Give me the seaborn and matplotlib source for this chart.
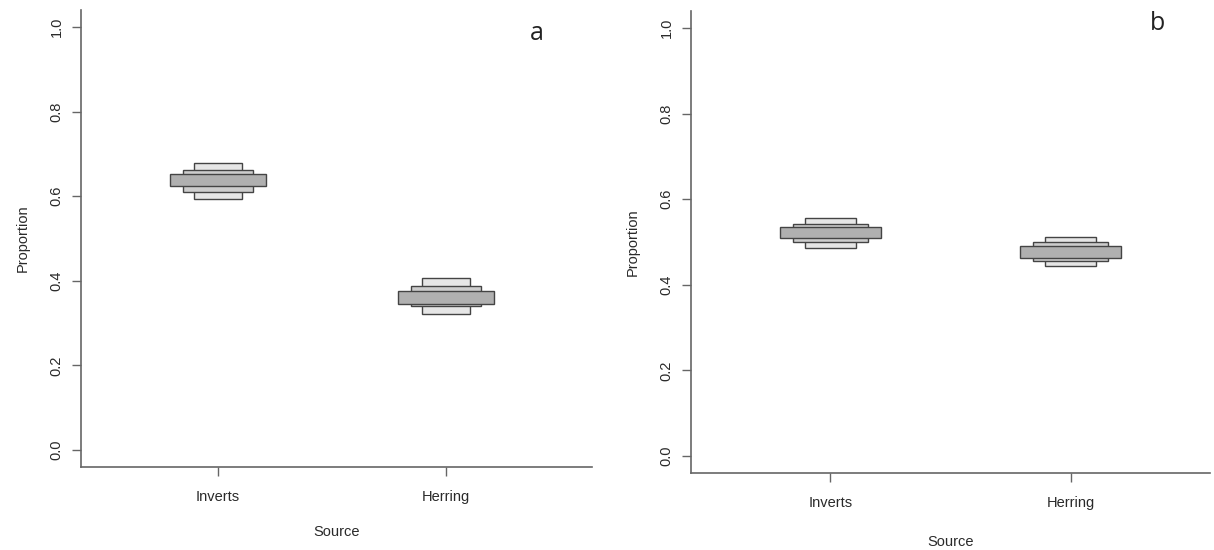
import matplotlib
matplotlib.use("Agg")
import matplotlib.pyplot as plt
import seaborn as sns

# Data: credible intervals (95%, 75%, 50%) of source proportions
sources = ["Inverts", "Herring"]

a_lo95 = [0.594, 0.321]
a_hi95 = [0.678, 0.407]
a_lo75 = [0.611, 0.341]
a_hi75 = [0.661, 0.388]
a_lo50 = [0.623, 0.346]
a_hi50 = [0.653, 0.377]

b_lo95 = [0.486, 0.443]
b_hi95 = [0.556, 0.512]
b_lo75 = [0.499, 0.456]
b_hi75 = [0.542, 0.500]
b_lo50 = [0.509, 0.462]
b_hi50 = [0.535, 0.490]

yticks = [0.0, 0.2, 0.4, 0.6, 0.8, 1.0]

sns.set_style("ticks")
plt.rcParams["font.family"] = ["Liberation Sans", "DejaVu Sans"]

txt = "#2a2a2a"
axc = "#666666"

fig = plt.figure(figsize=(12.14, 5.5), dpi=100)
W, H = 1214, 550


def panel(box, intervals, letter, letter_xy, xlim, ypad, xpad, xlabpad):
    l, t, r, b = box
    ax = fig.add_axes([l / W, 1 - b / H, (r - l) / W, (b - t) / H])
    levels = [(0.21, "#e6e6e6"), (0.31, "#cdcdcd"), (0.42, "#b0b0b0")]
    for (lo, hi), (w, col) in zip(intervals, levels):
        heights = [h - q for h, q in zip(hi, lo)]
        sns.barplot(x=sources, y=heights, bottom=lo, width=w, color=col,
                    saturation=1, edgecolor="#444444", linewidth=1.0,
                    errorbar=None, ax=ax)
    ax.set_ylim(-0.04, 1.04)
    ax.set_xlim(*xlim)
    ax.set_yticks(yticks)
    ax.set_yticklabels([f"{v:.1f}" for v in yticks], rotation=90, va="center")
    ax.set_xlabel("Source", fontsize=10.5, color=txt, labelpad=xlabpad)
    ax.set_ylabel("Proportion", fontsize=10.5, color=txt, labelpad=14)
    ax.tick_params(axis="y", length=6.5, width=1, color=axc,
                   labelsize=10.5, labelcolor=txt, pad=ypad)
    ax.tick_params(axis="x", length=6.5, width=1, color=axc,
                   labelsize=10.5, labelcolor=txt, pad=xpad)
    for s in ["top", "right"]:
        ax.spines[s].set_visible(False)
    for s in ["left", "bottom"]:
        ax.spines[s].set_color(axc)
        ax.spines[s].set_linewidth(1.2)
    fig.text(letter_xy[0] / W, 1 - letter_xy[1] / H, letter, fontsize=18,
             family=["Open Sans", "DejaVu Sans"], color="#222222",
             ha="center", va="center")
    return ax


panel((81, 10, 592, 467),
      [(a_lo95, a_hi95), (a_lo75, a_hi75), (a_lo50, a_hi50)],
      "a", (537, 34), (-0.60, 1.64), 6, 10, 15)
panel((691, 11, 1210, 473),
      [(b_lo95, b_hi95), (b_lo75, b_hi75), (b_lo50, b_hi50)],
      "b", (1157, 23), (-0.58, 1.58), 6, 10, 18)

fig.savefig("out.png", dpi=100, facecolor="white")
